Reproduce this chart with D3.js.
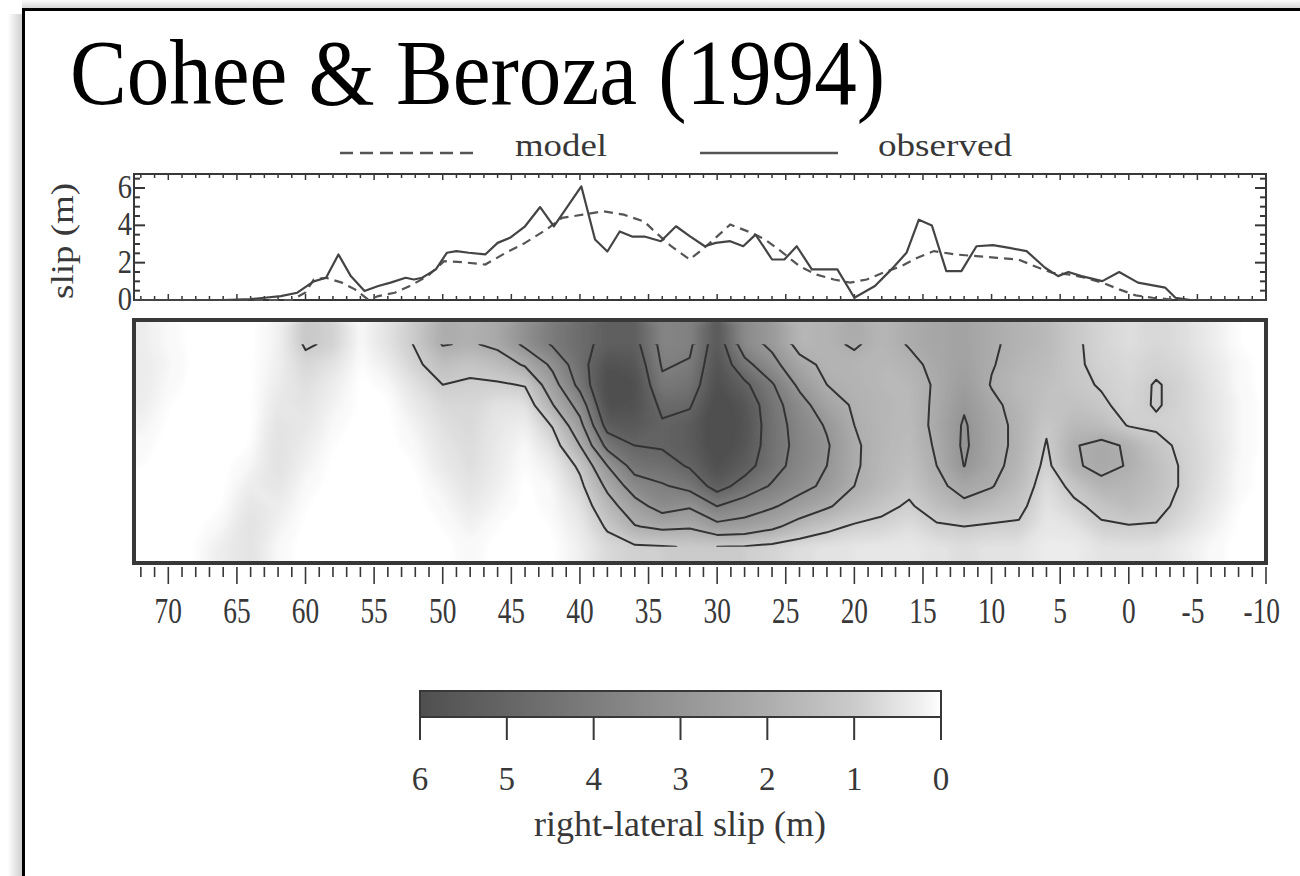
<!DOCTYPE html>
<html>
<head>
<meta charset="utf-8">
<script src="https://cdn.jsdelivr.net/npm/d3@7"></script>
<style>
  html, body { margin: 0; padding: 0; background: #fff; }
  svg { display: block; }
  text { font-family: "Liberation Serif", "Times New Roman", serif; }
</style>
</head>
<body>
<svg id="chart" width="1300" height="876"></svg>
<script>
// ---------------- data ----------------
// Surface slip profile along strike (km) : observed and model
const observedKm = [72.5,66,64,63,61.8,60.6,59.4,58.5,57.6,56.7,55.7,54.7,53.8,52.7,52.1,51.5,51.1,50.5,49.7,49.0,48.1,46.9,46.0,45.1,44.0,42.9,41.9,39.9,38.9,38.0,37.1,36.2,35.3,34.1,33.0,32.0,30.9,30.1,29.05,28.1,27.2,26.0,25.1,24.2,23.1,22.2,21.24,20.0,18.5,17.3,16.2,15.3,14.35,13.3,12.2,11.1,9.9,8.7,7.45,6.1,5.15,4.4,3.45,1.93,0.7,-0.67,-2.66,-3.4,-4.5,-10];
const observedSlip = [0,0,0.05,0.12,0.21,0.39,1.0,1.19,2.44,1.28,0.48,0.75,0.93,1.19,1.1,1.19,1.37,1.64,2.53,2.62,2.53,2.44,3.06,3.33,3.95,4.98,3.95,6.09,3.24,2.6,3.67,3.4,3.4,3.15,3.95,3.42,2.88,3.06,3.15,2.88,3.5,2.17,2.17,2.88,1.64,1.64,1.64,0.12,0.75,1.64,2.53,4.3,3.99,1.55,1.55,2.88,2.94,2.79,2.62,1.73,1.28,1.5,1.28,1.01,1.5,0.93,0.66,0.12,0,0];

const modelKm = [72.5,61,60,59.4,58.5,57.35,56.4,55.4,54.7,53.5,52.4,51.1,49.9,48.6,46.9,45.4,44.0,42.45,41.3,39.8,38.3,36.8,35.3,34.7,33.35,32.0,30.8,29.05,27.5,26.5,25.2,24.0,22.8,21.5,20.3,19.1,17.9,16.6,15.4,14.2,12.65,11.1,9.6,8.05,6.85,5.6,4.4,3.2,1.93,0.7,-0.5,-1.75,-2.95,-4,-10];
const modelSlip = [0,0,0.4,1.1,1.19,0.93,0.57,0.0,0.21,0.39,0.75,1.28,2.08,2.03,1.9,2.53,3.06,3.77,4.4,4.57,4.75,4.57,4.2,3.77,2.88,2.17,2.88,4.04,3.6,3.24,2.53,1.81,1.37,1.1,0.93,1.1,1.46,1.81,2.26,2.62,2.44,2.35,2.26,2.17,1.81,1.46,1.37,1.19,0.93,0.57,0.25,0.12,0.04,0,0];

// Axis ticks and labels
const distanceLabels = [70,65,60,55,50,45,40,35,30,25,20,15,10,5,0,-5,-10];
const slipAxisLabels = [0,2,4,6];
const colorbarLabels = [6,5,4,3,2,1,0];
const contourLevels = [1,2,3,4,5];

// Slip on the fault plane: columns along strike (km), rows down dip (km)
const gridKm = [72,70,68,66,64,62,60,58,56,54,52,50,48,46,44,42,40,38,36,34,32,30,28,26,24,22,20,18,16,14,12,10,8,6,4,2,0,-2,-4,-6,-8,-10];
const gridDepth = [1.5,2.75,4,5.25,6.5,7.75,9,10.25,11.5,12.75,14];
const slipDepth1 = [0.3,0.1,0,0,0,0.2,1.1,0.85,0.1,0.5,1.05,2.05,1.9,2.2,3.2,4.1,4.7,5.3,5.3,3.7,3.8,5.6,3.45,2.8,1.7,1.8,2.1,1.7,2.05,2.3,2.4,2.1,1.8,1.6,1.1,0.8,0.6,0.75,0.6,0.3,0.05,0];
const slipDepth2 = [0.35,0.15,0,0,0,0.25,0.75,0.5,0.05,0.3,0.85,1.4,1.2,1.5,2.1,3.2,4.6,5.9,5.7,3.9,4.1,5.8,4.3,3.3,2.3,1.8,1.75,1.65,1.8,2.2,2.5,2.05,1.7,1.5,1.1,0.85,0.7,0.85,0.7,0.4,0.1,0];
const slipDepth3 = [0.35,0.1,0,0,0,0.3,0.6,0.3,0,0.1,0.55,1.0,0.9,0.9,1.05,2.6,4.3,6.2,6.0,4.2,4.4,6.0,5.2,4.1,2.8,2.0,1.8,1.65,1.65,2.1,2.7,1.95,1.6,1.4,1.15,0.95,0.75,1.05,0.8,0.45,0.1,0];
const slipDepth4 = [0.3,0.05,0,0,0,0.4,0.5,0.2,0,0,0.35,0.7,0.75,0.5,0.5,1.95,3.4,6.0,5.9,4.8,4.9,6.3,5.7,4.4,3.4,2.4,1.9,1.7,1.6,2.15,2.9,2.2,1.7,1.3,1.35,1.1,0.8,1.05,0.8,0.5,0.15,0];
const slipDepth5 = [0.2,0,0,0,0,0.5,0.4,0.1,0,0,0.2,0.55,0.7,0.4,0.25,1.05,2.7,5.4,5.6,5.1,5.4,6.4,5.8,4.5,3.6,2.9,2.0,1.7,1.55,2.2,3.1,2.3,1.8,1.1,1.6,1.5,0.95,0.9,0.8,0.5,0.15,0];
const slipDepth6 = [0.1,0,0,0,0.05,0.55,0.3,0.05,0,0,0.1,0.45,0.65,0.35,0.1,0.6,2.0,4.3,5.0,5.1,5.4,6.3,5.7,4.5,3.7,3.1,2.1,1.7,1.5,2.1,3.15,2.3,1.8,0.95,1.95,2.2,1.9,1.2,0.85,0.55,0.15,0];
const slipDepth7 = [0.05,0,0,0,0.15,0.55,0.2,0,0,0,0.05,0.35,0.6,0.3,0.05,0.3,1.15,3.0,4.4,4.6,5.1,6.0,5.4,4.4,3.6,3.0,2.1,1.65,1.4,2.0,3.02,2.25,1.7,0.8,1.9,2.2,1.95,1.4,0.9,0.55,0.1,0];
const slipDepth8 = [0,0,0,0,0.3,0.45,0.1,0,0,0,0,0.2,0.5,0.25,0,0.15,0.8,2.2,3.5,3.9,4.3,5.4,4.6,3.9,3.3,2.8,2.0,1.6,1.2,1.8,2.3,2.05,1.5,0.6,1.2,1.8,1.7,1.4,0.9,0.5,0.1,0];
const slipDepth9 = [0,0,0,0.05,0.45,0.3,0.05,0,0,0,0,0.1,0.35,0.15,0,0.1,0.5,1.6,2.6,3.4,3.1,4.0,3.5,3.1,2.6,2.1,1.6,1.2,0.9,1.4,1.8,1.5,1.2,0.5,0.85,1.2,1.5,1.2,0.8,0.4,0.05,0];
const slipDepth10 = [0,0,0,0.15,0.55,0.2,0,0,0,0,0,0.05,0.2,0.05,0,0.05,0.35,1.1,1.95,2.2,2.1,2.7,2.6,2.2,1.6,1.2,0.9,0.8,0.6,0.9,1.0,0.9,0.9,0.4,0.5,0.9,0.95,0.95,0.6,0.25,0,0];
const slipDepth11 = [0,0,0.05,0.3,0.5,0.1,0,0,0,0,0,0,0.1,0,0,0,0.25,0.7,0.9,0.95,1.05,1.0,0.95,0.8,0.6,0.5,0.45,0.4,0.4,0.5,0.6,0.5,0.5,0.3,0.3,0.5,0.55,0.5,0.3,0.1,0,0];
const faultSlip = [slipDepth1,slipDepth2,slipDepth3,slipDepth4,slipDepth5,slipDepth6,slipDepth7,slipDepth8,slipDepth9,slipDepth10,slipDepth11];

// ---------------- drawing ----------------
const svg = d3.select("#chart");
const ink = "#383838";
const defs = svg.append("defs");

// page frame with a soft shadow on its outer side
const gl = defs.append("linearGradient").attr("id", "shadeLeft").attr("x1", 0).attr("x2", 1).attr("y1", 0).attr("y2", 0);
gl.append("stop").attr("offset", 0).attr("stop-color", "#fff");
gl.append("stop").attr("offset", 1).attr("stop-color", "#cfcfcf");
const gt = defs.append("linearGradient").attr("id", "shadeTop").attr("x1", 0).attr("x2", 0).attr("y1", 0).attr("y2", 1);
gt.append("stop").attr("offset", 0).attr("stop-color", "#fafafa");
gt.append("stop").attr("offset", 1).attr("stop-color", "#d8d8d8");
svg.append("rect").attr("x", 8).attr("y", 14).attr("width", 14).attr("height", 862).attr("fill", "url(#shadeLeft)");
svg.append("rect").attr("x", 22).attr("y", 0).attr("width", 1278).attr("height", 8).attr("fill", "url(#shadeTop)");
svg.append("line").attr("x1", 22).attr("x2", 1300).attr("y1", 9.5).attr("y2", 9.5).attr("stroke", "#000").attr("stroke-width", 3);
svg.append("line").attr("x1", 23.5).attr("x2", 23.5).attr("y1", 8).attr("y2", 876).attr("stroke", "#000").attr("stroke-width", 3);

// title
svg.append("text").attr("x", 70).attr("y", 104).attr("font-size", 94)
  .attr("textLength", 815).attr("lengthAdjust", "spacingAndGlyphs")
  .attr("fill", "#000").text("Cohee & Beroza (1994)");

// scales
const x = d3.scaleLinear().domain([72.5, -10]).range([134, 1266]);
const ySlip = d3.scaleLinear().domain([0, 6.75]).range([300, 174]);
const yDepth = d3.scaleLinear().domain([0, 15]).range([320, 563]);
const shade = d3.scaleLinear()
  .domain([0, 0.3, 1, 2, 3, 4, 5, 6])
  .range(["#ffffff", "#ececec", "#cbcbcb", "#adadad", "#959595", "#7d7d7d", "#656565", "#4f4f4f"])
  .clamp(true);

// ---- legend ----
svg.append("line").attr("x1", 340).attr("x2", 478).attr("y1", 153).attr("y2", 153)
  .attr("stroke", "#555").attr("stroke-width", 2.5).attr("stroke-dasharray", "13,7");
svg.append("text").attr("x", 515).attr("y", 156).attr("font-size", 31)
  .attr("textLength", 92).attr("lengthAdjust", "spacingAndGlyphs").attr("fill", ink).text("model");
svg.append("line").attr("x1", 700).attr("x2", 838).attr("y1", 153).attr("y2", 153)
  .attr("stroke", "#555").attr("stroke-width", 2.5);
svg.append("text").attr("x", 878).attr("y", 156).attr("font-size", 31)
  .attr("textLength", 134).attr("lengthAdjust", "spacingAndGlyphs").attr("fill", ink).text("observed");

// ---- slip profile panel ----
const profilePanel = svg.append("g");
const x0 = x.range()[0], x1 = x.range()[1];
profilePanel.append("rect").attr("x", x0).attr("y", 174).attr("width", x1 - x0).attr("height", 126)
  .attr("fill", "none").attr("stroke", ink).attr("stroke-width", 2);
// strike ticks on top and bottom edges, pointing inward
const kmTicks = d3.range(-10, 73, 1);
profilePanel.selectAll(".tb").data(kmTicks).join("line")
  .attr("x1", d => x(d)).attr("x2", d => x(d))
  .attr("y1", 300).attr("y2", d => 300 - (d % 5 === 0 ? 6 : 4))
  .attr("stroke", ink).attr("stroke-width", 1.5);
profilePanel.selectAll(".tt").data(kmTicks).join("line")
  .attr("x1", d => x(d)).attr("x2", d => x(d))
  .attr("y1", 174).attr("y2", d => 174 + (d % 5 === 0 ? 6 : 4))
  .attr("stroke", ink).attr("stroke-width", 1.5);
// slip ticks left and right, pointing inward
const slipTicks = d3.range(0, 6.6, 0.5);
profilePanel.selectAll(".tl").data(slipTicks).join("line")
  .attr("x1", x0).attr("x2", d => x0 + (d % 2 === 0 ? 11 : 6))
  .attr("y1", d => ySlip(d)).attr("y2", d => ySlip(d))
  .attr("stroke", ink).attr("stroke-width", 2);
profilePanel.selectAll(".tr").data(slipTicks).join("line")
  .attr("x1", x1).attr("x2", d => x1 - (d % 2 === 0 ? 11 : 6))
  .attr("y1", d => ySlip(d)).attr("y2", d => ySlip(d))
  .attr("stroke", ink).attr("stroke-width", 2);
profilePanel.selectAll(".sl").data(slipAxisLabels).join("text")
  .attr("transform", d => `translate(${x0 - 2},${ySlip(d) + 10}) scale(0.95,1.12)`)
  .attr("text-anchor", "end").attr("font-size", 30).attr("fill", ink)
  .text(d => d);
svg.append("text").attr("transform", "translate(73,241) rotate(-90)")
  .attr("text-anchor", "middle").attr("font-size", 31)
  .attr("textLength", 116).attr("lengthAdjust", "spacingAndGlyphs")
  .attr("fill", ink).text("slip (m)");

const profile = d3.line().x(d => x(d[0])).y(d => ySlip(d[1]));
profilePanel.append("path").datum(d3.zip(modelKm, modelSlip)).attr("d", profile)
  .attr("fill", "none").attr("stroke", "#555").attr("stroke-width", 2.2).attr("stroke-dasharray", "9,6");
profilePanel.append("path").datum(d3.zip(observedKm, observedSlip)).attr("d", profile)
  .attr("fill", "none").attr("stroke", "#444").attr("stroke-width", 2.2).attr("stroke-linejoin", "round");

// ---- fault plane slip map ----
const nx = gridKm.length, ny = gridDepth.length;
const gx = d3.scaleLinear().domain([0.5, nx - 0.5]).range([x(gridKm[0]), x(gridKm[nx - 1])]);
const gy = d3.scaleLinear().domain([0.5, ny - 0.5]).range([yDepth(gridDepth[0]), yDepth(gridDepth[ny - 1])]);
const gyPad = d3.scaleLinear().domain([1.5, ny + 0.5]).range(gy.range());

defs.append("clipPath").attr("id", "boxClip").append("rect")
  .attr("x", x0).attr("y", 320).attr("width", x1 - x0).attr("height", 243);
defs.append("clipPath").attr("id", "gridClip").append("rect")
  .attr("x", gx(0.5)).attr("y", gy(0.5)).attr("width", gx(nx - 0.5) - gx(0.5)).attr("height", gy(ny - 0.5) - gy(0.5));
const blur = defs.append("filter").attr("id", "soft").attr("x", "-5%").attr("y", "-10%").attr("width", "110%").attr("height", "120%");
blur.append("feGaussianBlur").attr("stdDeviation", 3.5);

// shaded bands (edge rows repeated so the shading reaches the frame)
const padded = [faultSlip[0], ...faultSlip, faultSlip[ny - 1]].flat();
const fillLevels = d3.range(0.05, 6.5, 0.1);
const bands = d3.contours().size([nx, ny + 2]).thresholds(fillLevels)(padded);
const padPath = d3.geoPath(d3.geoTransform({ point(px, py) { this.stream.point(gx(px), gyPad(py)); } }));
svg.append("rect").attr("x", x0).attr("y", 320).attr("width", x1 - x0).attr("height", 243).attr("fill", "#fff");
svg.append("g").attr("clip-path", "url(#boxClip)")
  .append("g").attr("filter", "url(#soft)")
  .selectAll("path").data(bands).join("path")
  .attr("d", padPath).attr("fill", d => shade(d.value + 0.05));

// contour lines
const lines = d3.contours().size([nx, ny]).thresholds(contourLevels)(faultSlip.flat());
const gridPath = d3.geoPath(d3.geoTransform({ point(px, py) { this.stream.point(gx(px), gy(py)); } }));
svg.append("g").attr("clip-path", "url(#gridClip)")
  .selectAll("path").data(lines).join("path")
  .attr("d", gridPath).attr("fill", "none").attr("stroke", "#333")
  .attr("stroke-width", 2).attr("stroke-linejoin", "round");

svg.append("rect").attr("x", x0).attr("y", 320).attr("width", x1 - x0).attr("height", 243)
  .attr("fill", "none").attr("stroke", ink).attr("stroke-width", 4);

// distance axis below the map
const axisY = 567;
svg.selectAll(".dt").data(kmTicks).join("line")
  .attr("x1", d => x(d)).attr("x2", d => x(d))
  .attr("y1", axisY).attr("y2", d => axisY + (d % 5 === 0 ? 17 : 10))
  .attr("stroke", ink).attr("stroke-width", 1.6);
svg.selectAll(".dl").data(distanceLabels).join("text")
  .attr("transform", d => {
    const digits = String(Math.abs(d)).length;
    const shift = d < 0 ? digits * 7 : 0;
    return `translate(${x(d) + shift},623) scale(0.76,1)`;
  })
  .attr("text-anchor", d => d < 0 ? "end" : "middle")
  .attr("font-size", 36).attr("fill", ink)
  .text(d => d < 0 ? "-" + Math.abs(d) : d);

// ---- colour bar ----
const cb = d3.scaleLinear().domain([6, 0]).range([420, 941]);
const grad = defs.append("linearGradient").attr("id", "slipRamp").attr("x1", 0).attr("x2", 1).attr("y1", 0).attr("y2", 0);
grad.selectAll("stop").data(d3.range(6, -0.01, -0.25)).join("stop")
  .attr("offset", d => (cb(d) - 420) / (941 - 420)).attr("stop-color", d => shade(d));
svg.append("rect").attr("x", cb(6)).attr("y", 691).attr("width", cb(0) - cb(6)).attr("height", 26)
  .attr("fill", "url(#slipRamp)").attr("stroke", ink).attr("stroke-width", 2);
svg.selectAll(".ct").data(colorbarLabels).join("line")
  .attr("x1", d => cb(d)).attr("x2", d => cb(d)).attr("y1", 717).attr("y2", 740)
  .attr("stroke", ink).attr("stroke-width", 2);
svg.selectAll(".cl").data(colorbarLabels).join("text")
  .attr("x", d => cb(d)).attr("y", 790).attr("text-anchor", "middle")
  .attr("font-size", 33).attr("fill", ink).text(d => d);
svg.append("text").attr("x", 680).attr("y", 836).attr("text-anchor", "middle")
  .attr("font-size", 36).attr("fill", ink).text("right-lateral slip (m)");
</script>
</body>
</html>
